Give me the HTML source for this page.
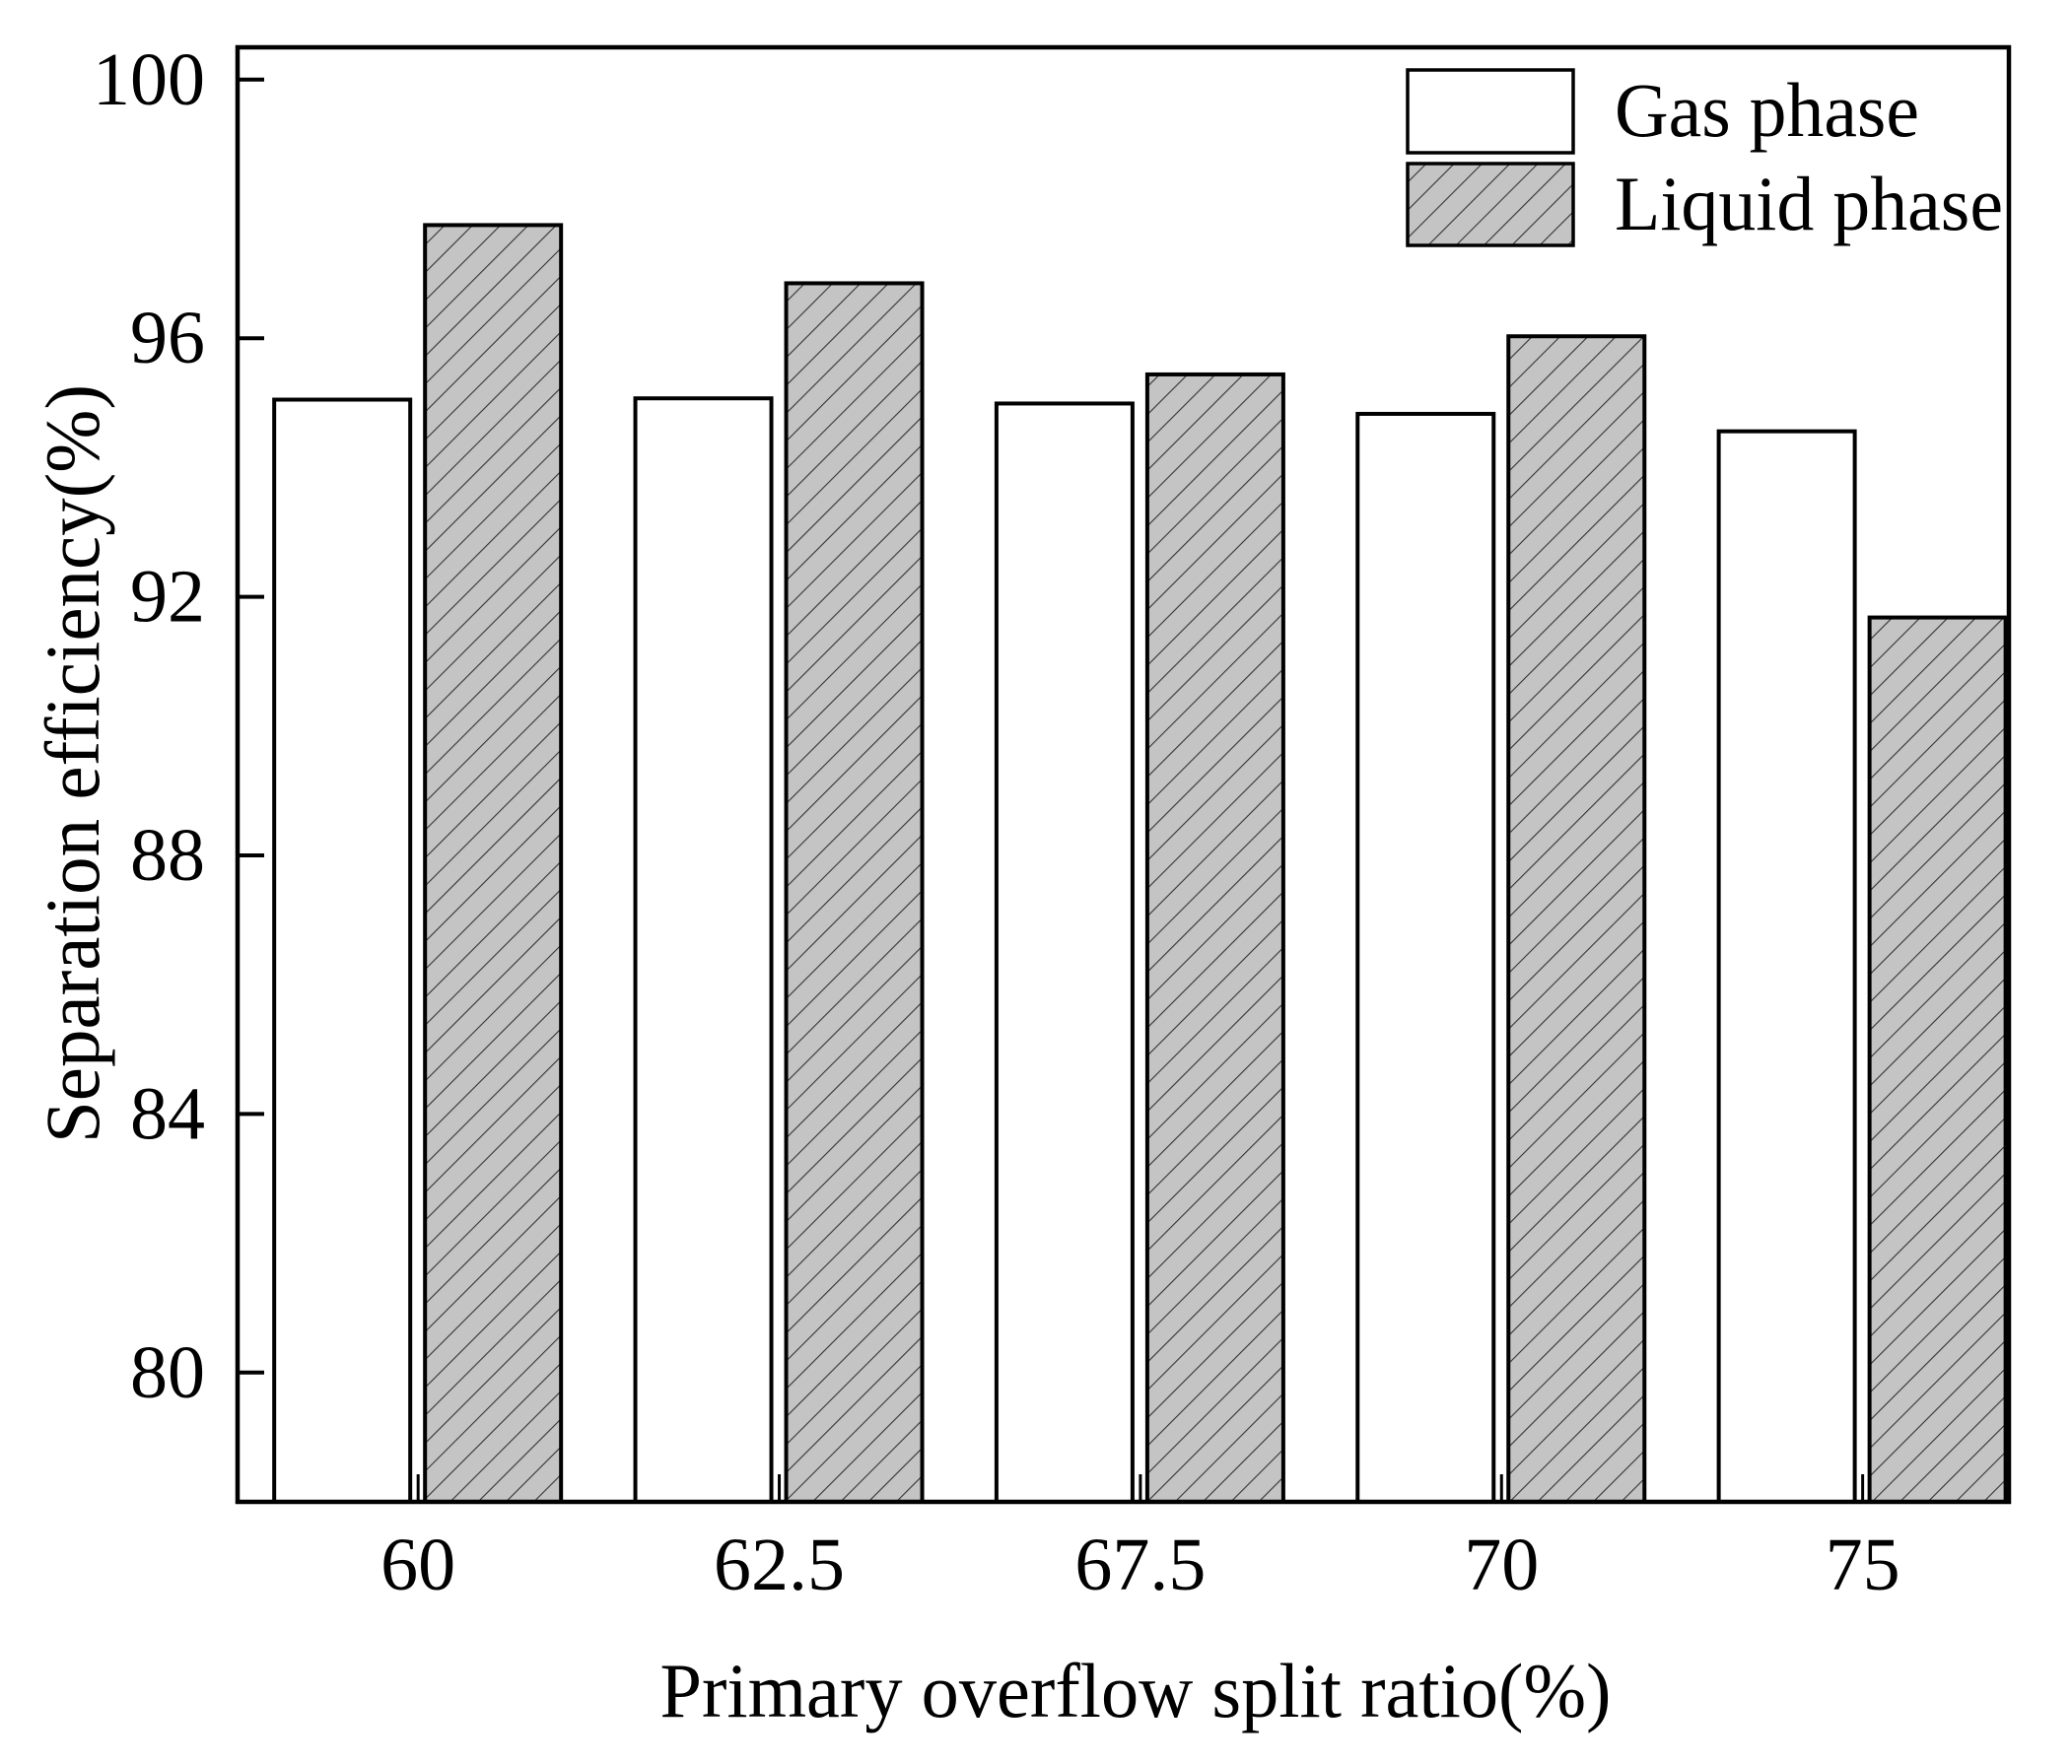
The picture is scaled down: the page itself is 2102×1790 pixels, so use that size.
<!DOCTYPE html>
<html><head><meta charset="utf-8"><style>
html,body{margin:0;padding:0;background:#fff;}
svg{display:block;}
text{font-family:"Liberation Serif","Times New Roman",serif;fill:#000;}
</style></head><body>
<svg id="chart" width="2102" height="1790" viewBox="0 0 2102 1790" xmlns="http://www.w3.org/2000/svg">
<defs>
<pattern id="hatch" patternUnits="userSpaceOnUse" width="20" height="20" patternTransform="rotate(45)">
<rect width="20" height="20" fill="#c4c4c4"/>
<line x1="0" y1="0" x2="0" y2="20" stroke="#333" stroke-width="2.2"/>
</pattern>
</defs>
<g id="plot"></g>
</svg>
<script>
const categories = ["60","62.5","67.5","70","75"];
const gasValues = [95.05, 95.07, 94.99, 94.83, 94.56];
const liquidValues = [97.75, 96.85, 95.44, 96.03, 91.68];
const yTicks = [80, 84, 88, 92, 96, 100];

const L=241, R=2038, T=48, B=1524;
const yMin=78, yMax=100.5;
const xMin=-0.5, xMax=4.405;
const y = v => B - (v - yMin) / (yMax - yMin) * (B - T);
const x = i => L + (i - xMin) / (xMax - xMin) * (R - L);
const NS="http://www.w3.org/2000/svg";
const g=document.getElementById('plot');
function mk(tag, attrs){const e=document.createElementNS(NS,tag);for(const k in attrs)e.setAttribute(k,attrs[k]);g.appendChild(e);return e;}

categories.forEach((c,i)=>{
  const cx=x(i);
  const gb=mk('rect',{x:cx-146,y:y(gasValues[i]),width:138,height:B-y(gasValues[i]),fill:'#fff',stroke:'#000','stroke-width':4});
  
  
  const lb=mk('rect',{x:cx+7,y:y(liquidValues[i]),width:138,height:B-y(liquidValues[i]),fill:'url(#hatch)',stroke:'#000','stroke-width':4});
  
  
  const tk=mk('line',{x1:cx,x2:cx,y1:B,y2:B-28,stroke:'#000','stroke-width':3});
  
  
  const tl=mk('text',{x:cx,y:1613,'text-anchor':'middle','font-size':76});
  tl.textContent=c;
  
  
});
yTicks.forEach(v=>{
  const tk=mk('line',{x1:L,x2:L+27,y1:y(v),y2:y(v),stroke:'#000','stroke-width':4});
  
  
  const tl=mk('text',{x:208,y:y(v)+25,'text-anchor':'end','font-size':76});
  tl.textContent=v;
  
  
});
const frame=mk('rect',{x:L,y:T,width:R-L,height:B-T,fill:'none',stroke:'#000','stroke-width':4.5});



const xt=mk('text',{x:1152,y:1742,'text-anchor':'middle','font-size':78,textLength:965,lengthAdjust:'spacingAndGlyphs'});
xt.textContent='Primary overflow split ratio(%)';


const yt=mk('text',{x:0,y:0,'text-anchor':'middle','font-size':78,textLength:770,lengthAdjust:'spacingAndGlyphs',transform:'translate(100,775) rotate(-90)'});
yt.textContent='Separation efficiency(%)';



const lg1=mk('rect',{x:1428,y:71,width:168,height:84,fill:'#fff',stroke:'#000','stroke-width':3.5});


const lg2=mk('rect',{x:1428,y:166,width:168,height:83,fill:'url(#hatch)',stroke:'#000','stroke-width':3.5});


const lt1=mk('text',{x:1638,y:138,'font-size':78,textLength:309,lengthAdjust:'spacingAndGlyphs'});
lt1.textContent='Gas phase';


const lt2=mk('text',{x:1638,y:233,'font-size':78,textLength:394,lengthAdjust:'spacingAndGlyphs'});
lt2.textContent='Liquid phase';


</script>
</body></html>
